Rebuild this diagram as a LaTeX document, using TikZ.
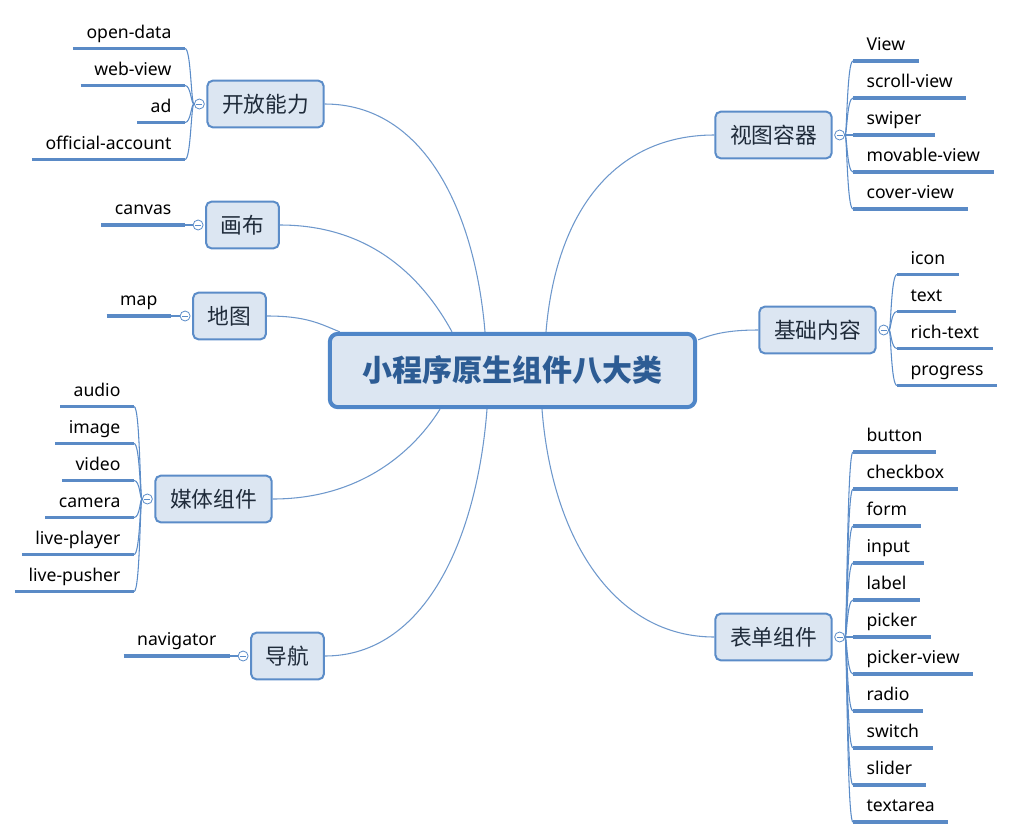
\documentclass[tikz,border=0pt]{standalone}
\usepackage{fontspec}
\setmainfont{Noto Sans}
\newfontfamily\cjk{Noto Sans CJK SC}
\usetikzlibrary{calc}
\definecolor{boxfill}{HTML}{DCE6F2}
\definecolor{boxline}{HTML}{5B8CC8}
\definecolor{mainline}{HTML}{4F86C8}
\definecolor{maintext}{HTML}{2D5C94}
\definecolor{branchtext}{HTML}{1F2B3A}
\definecolor{leafline}{HTML}{5A8AC6}
\definecolor{connc}{HTML}{6E98CC}
\begin{document}
\begin{tikzpicture}[x=0.75pt,y=-0.75pt,
 centre/.style={draw=mainline, line width=3pt, fill=boxfill, rounded corners=6pt, minimum width=274pt, minimum height=55pt, inner sep=0pt, font=\cjk\bfseries\fontsize{22.5}{26}\selectfont, text=maintext},
 branch/.style={draw=boxline, line width=1.5pt, fill=boxfill, rounded corners=4pt, inner xsep=11pt, inner ysep=0pt, minimum height=35pt, font=\cjk\fontsize{16.3}{19}\selectfont, text=branchtext},
 tog/.style={circle, draw=boxline, fill=white, line width=0.6pt, minimum size=7.5pt, inner sep=0pt, path picture={\draw[boxline, line width=0.6pt] ([xshift=-2.2pt]path picture bounding box.center) -- ([xshift=2.2pt]path picture bounding box.center);}},
 leafL/.style={anchor=south east, inner xsep=10pt, inner ysep=3.75pt, text height=9.75pt, text depth=3.75pt, font=\fontsize{13.2}{15}\selectfont, text=black,
   append after command={(\tikzlastnode.south west) edge[uline] (\tikzlastnode.south east)}},
 leafR/.style={leafL, anchor=south west},
 uline/.style={draw=leafline, line width=2.5pt},
 conn/.style={draw=connc, line width=0.8pt},
 spine/.style={draw=boxline, line width=0.8pt},
]
\useasboundingbox (0,0) rectangle (1012,839);

% centre
\node[centre] (c) at (512.5,370.5) {小程序原生组件八大类};

% branches
\node[branch] (k1) at (265.5,104) {开放能力};
\node[branch] (k2) at (242.5,225) {画布};
\node[branch] (k3) at (229.5,316) {地图};
\node[branch] (k4) at (213.5,499) {媒体组件};
\node[branch] (k5) at (287.5,656) {导航};
\node[branch] (r1) at (773.5,135) {视图容器};
\node[branch] (r2) at (817.5,330) {基础内容};
\node[branch] (r3) at (773.5,637) {表单组件};

% connectors centre - branches
\draw[conn] (k1.east) .. controls +(100,0) and +(-10,-120) .. ($(c.north)+(-27.5,0)$);
\draw[conn] (k2.east) .. controls +(90,0) and +(-30,-55) .. ($(c.north)+(-60.5,0)$);
\draw[conn] (k3.east) .. controls +(40,0) and +(-20,-8) .. ($(c.north west)+(12,0)$);
\draw[conn] (k4.east) .. controls +(90,0) and +(-25,40) .. ($(c.south)+(-72.5,0)$);
\draw[conn] (k5.east) .. controls +(100,0) and +(-10,130) .. ($(c.south)+(-25.5,0)$);
\draw[conn] (r1.west) .. controls +(-100,0) and +(10,-120) .. ($(c.north)+(33.5,0)$);
\draw[conn] (r2.west) .. controls +(-30,0) and +(15,-6) .. ($(c.north east)+(1,8)$);
\draw[conn] (r3.west) .. controls +(-100,0) and +(10,130) .. ($(c.south)+(29.5,0)$);

% toggles
\node[tog] (k1c) at ($(k1.west)+(-7,0)$) {};
\node[tog] (k2c) at ($(k2.west)+(-7,0)$) {};
\node[tog] (k3c) at ($(k3.west)+(-7,0)$) {};
\node[tog] (k4c) at ($(k4.west)+(-7,0)$) {};
\node[tog] (k5c) at ($(k5.west)+(-7,0)$) {};
\node[tog] (r1c) at ($(r1.east)+(7,0)$) {};
\node[tog] (r2c) at ($(r2.east)+(7,0)$) {};
\node[tog] (r3c) at ($(r3.east)+(7,0)$) {};

% leaves: 开放能力
\node[leafL] (a1) at (185,48.5) {open-data};
\node[leafL] (a2) at (185,85.5) {web-view};
\node[leafL] (a3) at (185,122.5) {ad};
\node[leafL] (a4) at (185,159.5) {official-account};
\foreach \n in {a1,a2,a3,a4}
  \draw[spine] (k1c.west) .. controls ($(\n.south east |- k1c.west)+(6,0)$) and ($(\n.south east)+(6,0)$) .. (\n.south east);

% 画布
\node[leafL] (b1) at (185,225) {canvas};
\draw[spine] (k2c.west) -- (b1.south east);

% 地图
\node[leafL] (m1) at (171,316) {map};
\draw[spine] (k3c.west) -- (m1.south east);

% 媒体组件
\node[leafL] (d1) at (134,406.5) {audio};
\node[leafL] (d2) at (134,443.5) {image};
\node[leafL] (d3) at (134,480.5) {video};
\node[leafL] (d4) at (134,517.5) {camera};
\node[leafL] (d5) at (134,554.5) {live-player};
\node[leafL] (d6) at (134,591.5) {live-pusher};
\foreach \n in {d1,d2,d3,d4,d5,d6}
  \draw[spine] (k4c.west) .. controls ($(\n.south east |- k4c.west)+(6,0)$) and ($(\n.south east)+(6,0)$) .. (\n.south east);

% 导航
\node[leafL] (n1) at (230,656) {navigator};
\draw[spine] (k5c.west) -- (n1.south east);

% 视图容器
\node[leafR] (v1) at (853,61) {View};
\node[leafR] (v2) at (853,98) {scroll-view};
\node[leafR] (v3) at (853,135) {swiper};
\node[leafR] (v4) at (853,172) {movable-view};
\node[leafR] (v5) at (853,209) {cover-view};
\foreach \n in {v1,v2,v3,v4,v5}
  \draw[spine] (r1c.east) .. controls ($(\n.south west |- r1c.east)+(-6,0)$) and ($(\n.south west)+(-6,0)$) .. (\n.south west);

% 基础内容
\node[leafR] (t1) at (897,274.5) {icon};
\node[leafR] (t2) at (897,311.5) {text};
\node[leafR] (t3) at (897,348.5) {rich-text};
\node[leafR] (t4) at (897,385.5) {progress};
\foreach \n in {t1,t2,t3,t4}
  \draw[spine] (r2c.east) .. controls ($(\n.south west |- r2c.east)+(-6,0)$) and ($(\n.south west)+(-6,0)$) .. (\n.south west);

% 表单组件
\node[leafR] (f1) at (853,452) {button};
\node[leafR] (f2) at (853,489) {checkbox};
\node[leafR] (f3) at (853,526) {form};
\node[leafR] (f4) at (853,563) {input};
\node[leafR] (f5) at (853,600) {label};
\node[leafR] (f6) at (853,637) {picker};
\node[leafR] (f7) at (853,674) {picker-view};
\node[leafR] (f8) at (853,711) {radio};
\node[leafR] (f9) at (853,748) {switch};
\node[leafR] (f10) at (853,785) {slider};
\node[leafR] (f11) at (853,822) {textarea};
\foreach \n in {f1,f2,f3,f4,f5,f6,f7,f8,f9,f10,f11}
  \draw[spine] (r3c.east) .. controls ($(\n.south west |- r3c.east)+(-6,0)$) and ($(\n.south west)+(-6,0)$) .. (\n.south west);
\end{tikzpicture}
\end{document}
